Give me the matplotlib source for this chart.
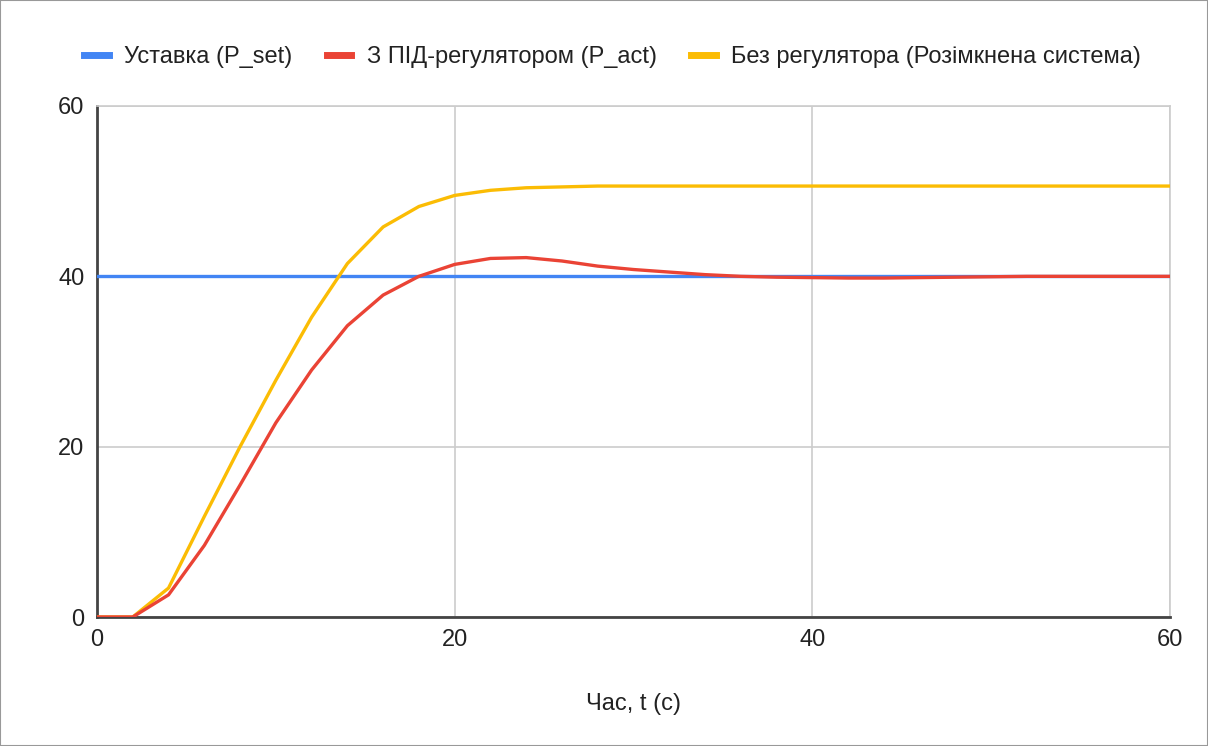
import numpy as np
import matplotlib.pyplot as plt
from matplotlib.patches import Rectangle

plt.rcParams['font.family'] = ['Liberation Sans', 'DejaVu Sans']

# time, seconds (one sample every 2 s)
t = list(range(0, 62, 2))

# setpoint
p_set = [40] * len(t)

# with PID controller
p_act = [0, 0, 2.6, 8.4, 15.5, 22.8, 29.0, 34.2, 37.8, 40.0, 41.4,
         42.1, 42.2, 41.8, 41.2, 40.8, 40.5, 40.2, 40.0, 39.9, 39.85,
         39.8, 39.8, 39.85, 39.9, 39.95, 40.0, 40.0, 40.0, 40.0, 40.0]

# open loop (no controller)
p_open = [0, 0, 3.4, 11.8, 20.0, 27.8, 35.2, 41.5, 45.8, 48.2, 49.5,
          50.1, 50.4, 50.5, 50.6, 50.6, 50.6, 50.6, 50.6, 50.6, 50.6,
          50.6, 50.6, 50.6, 50.6, 50.6, 50.6, 50.6, 50.6, 50.6, 50.6]

labels = ["Уставка (P_set)", "З ПІД-регулятором (P_act)",
          "Без регулятора (Розімкнена система)"]
colors = ["#4285F4", "#EA4335", "#FBBC04"]

fs = 17

fig = plt.figure(figsize=(12.08, 7.46), dpi=100)
ax = fig.add_axes([97 / 1208, 1 - 617 / 746, (1170 - 97) / 1208, (617 - 106) / 746])

ax.plot(t, p_set, color=colors[0], lw=2.4, label=labels[0], zorder=3)
ax.plot(t, p_act, color=colors[1], lw=2.4, label=labels[1], zorder=4)
ax.plot(t, p_open, color=colors[2], lw=2.4, label=labels[2], zorder=3)

ax.set_xlim(0, 60)
ax.set_ylim(0, 60)
ax.set_xticks([0, 20, 40, 60])
ax.set_yticks([0, 20, 40, 60])
ax.grid(True, color="#cccccc", lw=1.2)
ax.set_axisbelow(True)
ax.tick_params(length=0, labelsize=fs, colors="#222222", pad=9)

for s in ["top", "right"]:
    ax.spines[s].set_color("#cccccc")
    ax.spines[s].set_linewidth(1.2)
for s in ["bottom", "left"]:
    ax.spines[s].set_color("#444444")
    ax.spines[s].set_linewidth(2)

ax.set_xlabel("Час, t (с)", fontsize=fs, color="#222222", labelpad=30)

fig.legend(loc="center", bbox_to_anchor=(0.507, 1 - 57 / 746), ncol=3,
           frameon=False, fontsize=fs, handlelength=1.05, handletextpad=0.65,
           columnspacing=1.45, labelcolor="#222222")
for h in fig.legends[0].get_lines():
    h.set_linewidth(5)

fig.patches.append(Rectangle((0, 0), 1, 1, transform=fig.transFigure,
                             fill=False, edgecolor="#999999", lw=1.5))

fig.savefig("out.png", dpi=100)
